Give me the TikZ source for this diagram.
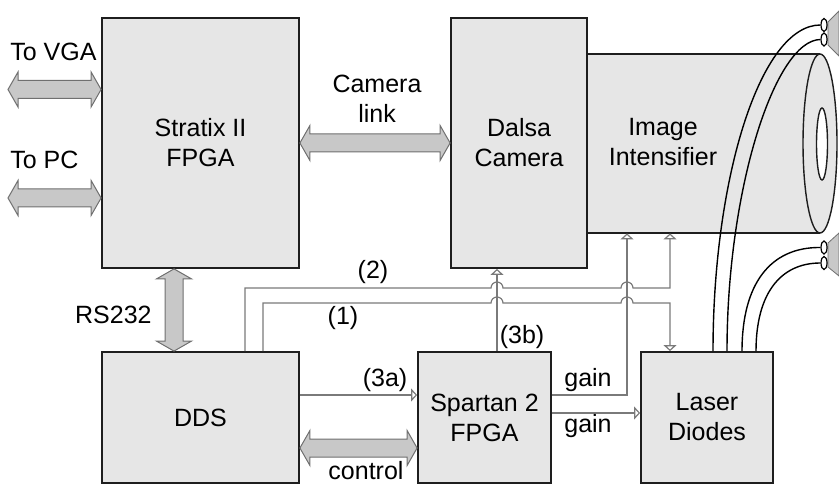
\documentclass[tikz,border=0pt]{standalone}
\usepackage{fontspec}
\setmainfont{Liberation Sans}
\usetikzlibrary{arrows.meta,calc,shapes.geometric}
\definecolor{BoxFill}{HTML}{E6E6E6}
\definecolor{BoxLine}{HTML}{1E1E1E}
\definecolor{BusFill}{HTML}{C8C8C8}
\definecolor{BusLine}{HTML}{707070}
\definecolor{SigLine}{HTML}{7A7A7A}

% fat double-headed bus arrows, horizontal and vertical
\newcommand{\hbus}[2]{%
  \draw[bus] let \p1=(#1), \p2=(#2) in
    (\x1,\y1) -- (\x1+5pt,\y1+8.75pt) -- (\x1+5pt,\y1+4.5pt)
    -- (\x2-5pt,\y1+4.5pt) -- (\x2-5pt,\y1+8.75pt) -- (\x2,\y1)
    -- (\x2-5pt,\y1-8.75pt) -- (\x2-5pt,\y1-4.5pt)
    -- (\x1+5pt,\y1-4.5pt) -- (\x1+5pt,\y1-8.75pt) -- cycle;}
\newcommand{\vbus}[2]{%
  \draw[bus] let \p1=(#1), \p2=(#2) in
    (\x1,\y1) -- (\x1+8.75pt,\y1-5pt) -- (\x1+4.5pt,\y1-5pt)
    -- (\x1+4.5pt,\y2+5pt) -- (\x1+8.75pt,\y2+5pt) -- (\x1,\y2)
    -- (\x1-8.75pt,\y2+5pt) -- (\x1-4.5pt,\y2+5pt)
    -- (\x1-4.5pt,\y1-5pt) -- (\x1-8.75pt,\y1-5pt) -- cycle;}

\begin{document}
\begin{tikzpicture}[x=0.5pt,y=-0.5pt,
    font=\fontsize{12.5}{15}\selectfont,
    block/.style={
      draw=BoxLine,
      line width=0.9pt,
      fill=BoxFill,
      inner sep=0pt,
      align=center,
      minimum width=#1
    },
    lbl/.style={inner sep=0pt, align=center},
    bus/.style={draw=BusLine, line width=0.5pt, fill=BusFill},
    sig/.style={draw=SigLine, line width=0.6pt},
    sigarr/.style={
      sig,
      -{Triangle[open, length=3pt, width=6.5pt]}
    },
    fiber/.style={draw=black, line width=0.7pt},
    tip/.style={
      ellipse,
      draw=black,
      line width=0.6pt,
      fill=white,
      inner sep=0pt,
      minimum width=3pt,
      minimum height=6.5pt
    },
    cone/.style={fill=BusFill, draw=BusLine, line width=0.4pt}
  ]
  \useasboundingbox (0,0) rectangle (839,485);

  % Image intensifier tube
  \fill[BoxFill] (587,54) rectangle (820,233);
  \draw[BoxLine, line width=0.9pt] (587,54) -- (820,54);
  \draw[BoxLine, line width=0.9pt] (587,233) -- (820,233);
  \draw[BoxLine, line width=0.7pt, fill=BoxFill]
    (820,143.5) ellipse[x radius=8.5pt, y radius=44.75pt];
  \draw[BoxLine, line width=0.7pt, fill=white]
    (822,144) ellipse[x radius=2.75pt, y radius=18pt];
  \node[inner sep=0pt, minimum width=116.5pt, minimum height=89.5pt]
    (intens) at (703.5,143.5) {};
  \node[lbl] at (663,142) {Image\\Intensifier};

  % Blocks
  \node[block=98.5pt, minimum height=125pt]  (stratix) at (200.5,143)   {Stratix II\\FPGA};
  \node[block=68pt,   minimum height=125pt]  (dalsa)   at (519,143)     {Dalsa\\Camera};
  \node[block=98.5pt, minimum height=65.5pt] (dds)     at (200.5,417.5) {DDS};
  \node[block=66.5pt, minimum height=65.5pt] (spartan) at (484.5,417.5) {Spartan 2\\FPGA};
  \node[block=66pt,   minimum height=65.5pt] (laser)   at (707,417.5)   {Laser\\Diodes};

  % Buses
  \coordinate (vga) at (8,89.5);
  \coordinate (pc)  at (8,198);
  \coordinate (rs)  at ($(stratix.south)+(-26.5,0)$);
  \coordinate (ctl) at ($(dds.east)+(0,30.5)$);
  \hbus{vga}{stratix.west |- vga}
  \hbus{pc}{stratix.west |- pc}
  \hbus{stratix.east}{dalsa.west}
  \hbus{ctl}{spartan.west |- ctl}
  \vbus{rs}{dds.north -| rs}

  \node[lbl, anchor=west] at (10,52)  {To VGA};
  \node[lbl, anchor=west] at (10,160) {To PC};
  \node[lbl] at (377,99) {Camera\\link};
  \node[lbl, anchor=east] at (152,315) {RS232};
  \node[lbl] at (366,471) {control};

  % Control lines
  \coordinate (tb) at ($(spartan.north)+(12.5,0)$);
  \coordinate (gx) at (627,0);
  \coordinate (x2) at ($(intens.south)+(-33.5,0)$);
  \coordinate (j2) at (0,288);
  \coordinate (j1) at (0,303);

  \draw[sigarr] ($(dds.north)+(44.5,0)$) |- ([xshift=-3pt]tb |- j2)
    arc[start angle=180, end angle=360, radius=6] -- ([xshift=-3pt]gx |- j2)
    arc[start angle=180, end angle=360, radius=6] -| (x2 |- intens.south);
  \draw[sigarr] ($(dds.north)+(62.5,0)$) |- ([xshift=-3pt]tb |- j1)
    arc[start angle=180, end angle=360, radius=6] -- ([xshift=-3pt]gx |- j1)
    arc[start angle=180, end angle=360, radius=6] -| (x2 |- laser.north);
  \draw[sigarr] (tb) -- (tb |- dalsa.south);
  \draw[sigarr] ($(dds.east)+(0,-22.5)$) -- ($(spartan.west)+(0,-22.5)$);
  \draw[sigarr] ($(spartan.east)+(0,-22.5)$) -| (gx |- intens.south);
  \draw[sigarr] ($(spartan.east)+(0,-4.5)$) -- ($(laser.west)+(0,-4.5)$);

  \node[lbl] at (373,272) {(2)};
  \node[lbl] at (343,318) {(1)};
  \node[lbl] at (522,337) {(3b)};
  \node[lbl] at (385,380) {(3a)};
  \node[lbl] at (588,380) {gain};
  \node[lbl] at (588,426) {gain};

  % Fibre bundles to the illumination cones
  \fill[cone] (828,22) -- (839,11) -- (839,56) -- (828,45) -- cycle;
  \fill[cone] (828,243) -- (839,233) -- (839,276) -- (828,267) -- cycle;

  \node[tip] (f1) at (824,25)    {};
  \node[tip] (f2) at (824,39.5)  {};
  \node[tip] (f3) at (824,247.5) {};
  \node[tip] (f4) at (824,263)   {};

  \draw[fiber] ($(laser.north)+(6,0)$)  .. controls ($(laser.north)+(6,-172)$)  and (760,25)  .. (f1.west);
  \draw[fiber] ($(laser.north)+(20,0)$) .. controls ($(laser.north)+(20,-162)$) and (775,40)  .. (f2.west);
  \draw[fiber] ($(laser.north)+(35,0)$) .. controls ($(laser.north)+(35,-67)$)  and (770,247) .. (f3.west);
  \draw[fiber] ($(laser.north)+(49,0)$) .. controls ($(laser.north)+(49,-57)$)  and (780,263) .. (f4.west);

\end{tikzpicture}
\end{document}
